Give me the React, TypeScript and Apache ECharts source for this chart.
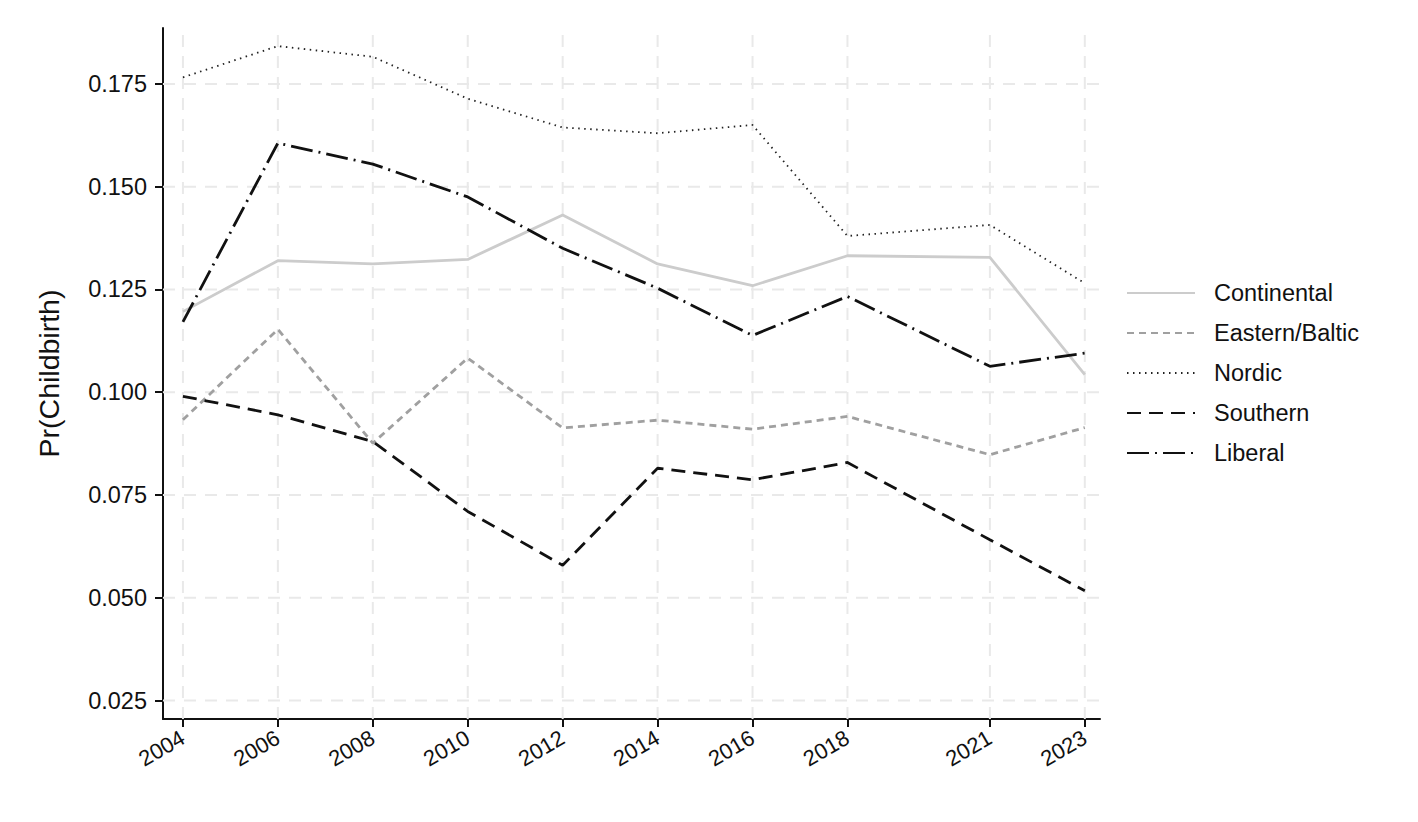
import React, { useEffect, useRef } from "react";
import * as echarts from "echarts";

const years = [2004, 2006, 2008, 2010, 2012, 2014, 2016, 2018, 2021, 2023];
const yTicks = [0.025, 0.05, 0.075, 0.1, 0.125, 0.15, 0.175];

const continental = [0.1196, 0.132, 0.1312, 0.1323, 0.1431, 0.1312, 0.1259, 0.1332, 0.1328, 0.1043];
const easternBaltic = [0.0933, 0.1153, 0.0876, 0.1083, 0.0913, 0.0932, 0.091, 0.0941, 0.0848, 0.0914];
const nordic = [0.1766, 0.1842, 0.1816, 0.1714, 0.1644, 0.163, 0.165, 0.138, 0.1407, 0.1265];
const southern = [0.099, 0.0945, 0.088, 0.071, 0.0579, 0.0815, 0.0787, 0.0829, 0.0641, 0.0517];
const liberal = [0.1171, 0.1606, 0.1555, 0.1475, 0.135, 0.1253, 0.1138, 0.1233, 0.1063, 0.1095];

const seriesNames = ["Continental", "Eastern/Baltic", "Nordic", "Southern", "Liberal"];

const X_MIN = 2003.58;
const X_MAX = 2023.32;
const Y_MIN = 0.0205;
const Y_MAX = 0.1886;

const FONT = "'Liberation Sans', Arial, Helvetica, sans-serif";

export default function App() {
  const ref = useRef<HTMLDivElement>(null);

  useEffect(() => {
    if (!ref.current) return;
    const chart = echarts.init(ref.current, null, { renderer: "svg" });
    const pair = (vals: number[]) => years.map((y, i) => [y, vals[i]]);
    const mkLine = (name: string, vals: number[], color: string, width: number, type: any) => ({
      name,
      type: "line",
      data: pair(vals),
      showSymbol: false,
      symbol: "none",
      z: 3,
      lineStyle: { color, width, type },
      itemStyle: { color },
    });
    const gridStyle = { color: "#e9e9e9", width: 2, type: [12, 9] };
    const gridSeries = [
      ...yTicks.map((v) => ({
        name: "gy" + v,
        type: "line",
        data: [[X_MIN, v], [X_MAX, v]],
        showSymbol: false,
        symbol: "none",
        silent: true,
        z: 1,
        lineStyle: gridStyle,
      })),
      ...years.map((v) => ({
        name: "gx" + v,
        type: "line",
        data: [[v, Y_MIN], [v, Y_MAX]],
        showSymbol: false,
        symbol: "none",
        silent: true,
        z: 1,
        lineStyle: gridStyle,
      })),
    ];

    chart.setOption({
      animation: false,
      backgroundColor: "#ffffff",
      textStyle: { fontFamily: FONT },
      grid: { left: 163, right: 318, top: 28, bottom: 103, containLabel: false },
      legend: {
        data: seriesNames,
        orient: "vertical",
        left: 1121,
        top: 274,
        itemWidth: 68,
        itemHeight: 14,
        itemGap: 12,
        itemStyle: { opacity: 0 },
        textStyle: { fontSize: 23.5, color: "#111", fontFamily: FONT, lineHeight: 28, padding: [0, 0, 0, 14] },
        selectedMode: false,
      },
      xAxis: {
        type: "value",
        min: X_MIN,
        max: X_MAX,
        axisLine: { show: true, lineStyle: { color: "#111", width: 2 } },
        axisTick: { show: true, length: 8, lineStyle: { color: "#111", width: 2 }, customValues: years },
        axisLabel: {
          customValues: years,
          rotate: 30,
          fontSize: 22,
          color: "#111",
          fontFamily: FONT,
          margin: 17,
          formatter: (v: number) => String(v),
        },
        splitLine: { show: false },
      },
      yAxis: {
        type: "value",
        min: Y_MIN,
        max: Y_MAX,
        name: "Pr(Childbirth)",
        nameLocation: "middle",
        nameGap: 100,
        nameTextStyle: { fontSize: 28.5, color: "#111", fontFamily: FONT },
        axisLine: { show: true, lineStyle: { color: "#111", width: 2 } },
        axisTick: { show: true, length: 8, lineStyle: { color: "#111", width: 2 }, customValues: yTicks },
        axisLabel: {
          customValues: yTicks,
          fontSize: 23.5,
          color: "#111",
          fontFamily: FONT,
          margin: 16,
          formatter: (v: number) => v.toFixed(3),
        },
        splitLine: { show: false },
      },
      series: [
        ...gridSeries,
        mkLine("Continental", continental, "#cccccc", 2.8, "solid"),
        mkLine("Eastern/Baltic", easternBaltic, "#a0a0a0", 2.8, [7, 5]),
        mkLine("Nordic", nordic, "#222222", 1.8, [1.5, 4.5]),
        mkLine("Southern", southern, "#111111", 2.8, [14, 8]),
        mkLine("Liberal", liberal, "#111111", 2.8, [22, 6, 2, 6]),
      ],
    });
    return () => chart.dispose();
  }, []);

  return (
    <div
      ref={ref}
      style={{ position: "absolute", left: 0, top: 0, width: 1418, height: 822, background: "#fff" }}
    />
  );
}
